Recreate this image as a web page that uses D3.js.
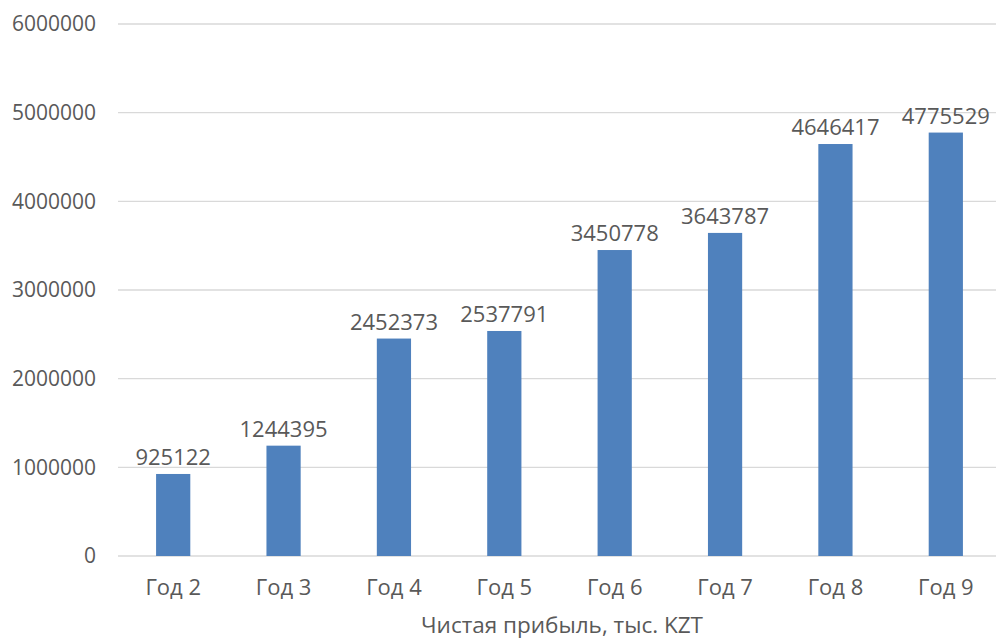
<!DOCTYPE html>
<meta charset="utf-8">
<script src="https://d3js.org/d3.v7.min.js"></script>
<style>
  body { margin: 0; background: #fff; }
  text { font-family: "Open Sans", "Noto Sans", sans-serif; fill: #595959; }
</style>
<body>
<div id="chart"></div>
<script>
  // data
  const years = ["Год 2", "Год 3", "Год 4", "Год 5", "Год 6", "Год 7", "Год 8", "Год 9"];
  const profit = [925122, 1244395, 2452373, 2537791, 3450778, 3643787, 4646417, 4775529];
  const yTicks = [0, 1000000, 2000000, 3000000, 4000000, 5000000, 6000000];
  const axisTitle = "Чистая прибыль, тыс. KZT";

  const W = 996, H = 639;
  const margin = {left: 118, right: 1001, top: 24, bottom: 556};

  const svg = d3.select("#chart").append("svg")
    .attr("width", W)
    .attr("height", H);

  const x = d3.scaleBand()
    .domain(years)
    .range([margin.left, margin.right])
    .paddingInner(0.69)
    .paddingOuter(0.345);

  const y = d3.scaleLinear()
    .domain([0, 6000000])
    .range([margin.bottom, margin.top]);

  // gridlines
  svg.append("g")
    .selectAll("line")
    .data(yTicks)
    .join("line")
      .attr("x1", margin.left)
      .attr("x2", margin.right)
      .attr("y1", d => y(d))
      .attr("y2", d => y(d))
      .attr("stroke", "#d9d9d9")
      .attr("stroke-width", 1.3);

  // y axis labels
  const yAxis = svg.append("g")
    .attr("transform", `translate(${margin.left - 22},0)`)
    .call(d3.axisLeft(y).tickValues(yTicks).tickSize(0).tickPadding(0).tickFormat(d3.format("d")));
  yAxis.select(".domain").remove();
  yAxis.selectAll("text").style("font-size", "21px").attr("fill", "#595959");

  // bars
  svg.append("g")
    .selectAll("rect")
    .data(profit)
    .join("rect")
      .attr("x", (d, i) => x(years[i]))
      .attr("y", d => y(d))
      .attr("width", x.bandwidth())
      .attr("height", d => margin.bottom - y(d))
      .attr("fill", "#4f81bd");

  // value labels
  svg.append("g")
    .selectAll("text")
    .data(profit)
    .join("text")
      .attr("x", (d, i) => x(years[i]) + x.bandwidth() / 2)
      .attr("y", d => y(d) - 9)
      .attr("text-anchor", "middle")
      .style("font-size", "22px")
      .text(d => d);

  // x axis labels
  const xAxis = svg.append("g")
    .attr("transform", `translate(0,${margin.bottom + 23})`)
    .call(d3.axisBottom(x).tickSize(0).tickPadding(0));
  xAxis.select(".domain").remove();
  xAxis.selectAll("text").style("font-size", "22px").attr("fill", "#595959");

  // axis title
  svg.append("text")
    .attr("x", 562)
    .attr("y", 633)
    .attr("text-anchor", "middle")
    .style("font-size", "22.5px")
    .text(axisTitle);
</script>
</body>
